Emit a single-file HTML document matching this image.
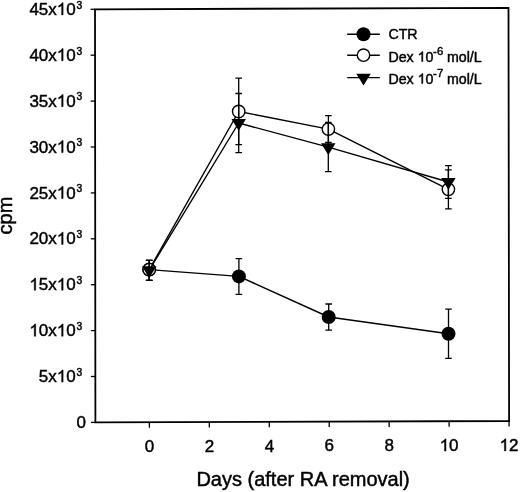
<!DOCTYPE html>
<html><head><meta charset="utf-8"><style>
html,body{margin:0;padding:0;background:#fff;}
body{width:520px;height:492px;overflow:hidden;}
svg{display:block;}
.g{fill:#000;stroke:#000;stroke-width:0.45px;vector-effect:non-scaling-stroke;}
text{font-family:"Liberation Sans",sans-serif;fill:#000;stroke:#000;stroke-width:0.45px;}
svg{filter:grayscale(1);}
</style></head><body>
<svg width="520" height="492" viewBox="0 0 520 492">
<rect width="520" height="492" fill="#fff"/>
<path d="M95.0,9.3L508.5,7.9L509.1,421.0L95.4,422.4Z" fill="none" stroke="#000" stroke-width="1.8" stroke-linejoin="miter"/>
<line x1="91.00" y1="422.40" x2="95.40" y2="422.40" stroke="#000" stroke-width="1.3"/>
<line x1="90.96" y1="376.50" x2="95.36" y2="376.50" stroke="#000" stroke-width="1.3"/>
<line x1="90.91" y1="330.60" x2="95.31" y2="330.60" stroke="#000" stroke-width="1.3"/>
<line x1="90.87" y1="284.70" x2="95.27" y2="284.70" stroke="#000" stroke-width="1.3"/>
<line x1="90.82" y1="238.80" x2="95.22" y2="238.80" stroke="#000" stroke-width="1.3"/>
<line x1="90.78" y1="192.90" x2="95.18" y2="192.90" stroke="#000" stroke-width="1.3"/>
<line x1="90.73" y1="147.00" x2="95.13" y2="147.00" stroke="#000" stroke-width="1.3"/>
<line x1="90.69" y1="101.10" x2="95.09" y2="101.10" stroke="#000" stroke-width="1.3"/>
<line x1="90.64" y1="55.20" x2="95.04" y2="55.20" stroke="#000" stroke-width="1.3"/>
<line x1="90.60" y1="9.30" x2="95.00" y2="9.30" stroke="#000" stroke-width="1.3"/>
<line x1="149.40" y1="422.22" x2="149.40" y2="427.72" stroke="#000" stroke-width="1.3"/>
<line x1="209.34" y1="422.01" x2="209.34" y2="427.51" stroke="#000" stroke-width="1.3"/>
<line x1="269.28" y1="421.81" x2="269.28" y2="427.31" stroke="#000" stroke-width="1.3"/>
<line x1="329.22" y1="421.61" x2="329.22" y2="427.11" stroke="#000" stroke-width="1.3"/>
<line x1="389.16" y1="421.41" x2="389.16" y2="426.91" stroke="#000" stroke-width="1.3"/>
<line x1="449.10" y1="421.20" x2="449.10" y2="426.70" stroke="#000" stroke-width="1.3"/>
<line x1="509.04" y1="421.00" x2="509.04" y2="426.50" stroke="#000" stroke-width="1.3"/>
<polyline points="149.20,269.60 238.90,276.40 328.70,317.00 448.50,333.70" fill="none" stroke="#000" stroke-width="1.4" stroke-linejoin="round"/>
<circle cx="149.20" cy="269.60" r="7.0" fill="#000"/>
<circle cx="238.90" cy="276.40" r="7.0" fill="#000"/>
<circle cx="328.70" cy="317.00" r="7.0" fill="#000"/>
<circle cx="448.50" cy="333.70" r="7.0" fill="#000"/>
<path d="M149.20,260.30V280.40M145.90,260.30H152.50M145.90,280.40H152.50" fill="none" stroke="#000" stroke-width="1.3"/>
<path d="M238.90,258.60V294.40M235.60,258.60H242.20M235.60,294.40H242.20" fill="none" stroke="#000" stroke-width="1.3"/>
<path d="M328.70,304.00V330.10M325.40,304.00H332.00M325.40,330.10H332.00" fill="none" stroke="#000" stroke-width="1.3"/>
<path d="M448.50,309.20V358.30M445.20,309.20H451.80M445.20,358.30H451.80" fill="none" stroke="#000" stroke-width="1.3"/>
<polyline points="149.20,269.60 238.70,111.50 328.40,129.10 448.40,189.30" fill="none" stroke="#000" stroke-width="1.4" stroke-linejoin="round"/>
<circle cx="149.20" cy="269.60" r="6.2" fill="#fff" stroke="#000" stroke-width="1.4"/>
<circle cx="238.70" cy="111.50" r="6.2" fill="#fff" stroke="#000" stroke-width="1.4"/>
<circle cx="328.40" cy="129.10" r="6.2" fill="#fff" stroke="#000" stroke-width="1.4"/>
<circle cx="448.40" cy="189.30" r="6.2" fill="#fff" stroke="#000" stroke-width="1.4"/>
<path d="M149.20,260.30V280.40M145.90,260.30H152.50M145.90,280.40H152.50" fill="none" stroke="#000" stroke-width="1.3"/>
<path d="M238.70,78.10V144.70M235.40,78.10H242.00M235.40,144.70H242.00" fill="none" stroke="#000" stroke-width="1.3"/>
<path d="M328.40,115.70V142.50M325.10,115.70H331.70M325.10,142.50H331.70" fill="none" stroke="#000" stroke-width="1.3"/>
<path d="M448.40,169.80V208.80M445.10,169.80H451.70M445.10,208.80H451.70" fill="none" stroke="#000" stroke-width="1.3"/>
<polyline points="149.20,270.20 238.70,123.00 328.30,147.10 448.40,182.00" fill="none" stroke="#000" stroke-width="1.4" stroke-linejoin="round"/>
<path d="M141.95,266.30 L156.45,266.30 L149.20,278.00 Z" fill="#000"/>
<path d="M231.45,119.10 L245.95,119.10 L238.70,130.80 Z" fill="#000"/>
<path d="M321.05,143.20 L335.55,143.20 L328.30,154.90 Z" fill="#000"/>
<path d="M441.15,178.10 L455.65,178.10 L448.40,189.80 Z" fill="#000"/>
<path d="M149.20,260.30V280.40M145.90,260.30H152.50M145.90,280.40H152.50" fill="none" stroke="#000" stroke-width="1.3"/>
<path d="M238.70,93.50V152.60M235.40,93.50H242.00M235.40,152.60H242.00" fill="none" stroke="#000" stroke-width="1.3"/>
<path d="M328.30,122.50V171.60M325.00,122.50H331.60M325.00,171.60H331.60" fill="none" stroke="#000" stroke-width="1.3"/>
<path d="M448.40,165.60V198.40M445.10,165.60H451.70M445.10,198.40H451.70" fill="none" stroke="#000" stroke-width="1.3"/>
<line x1="347.2" y1="34.3" x2="379.8" y2="34.3" stroke="#000" stroke-width="1.4"/>
<circle cx="363.50" cy="34.30" r="7.0" fill="#000"/>
<line x1="347.2" y1="55.2" x2="379.8" y2="55.2" stroke="#000" stroke-width="1.4"/>
<circle cx="363.50" cy="55.20" r="6.2" fill="#fff" stroke="#000" stroke-width="1.4"/>
<line x1="347.2" y1="77.6" x2="379.8" y2="77.6" stroke="#000" stroke-width="1.4"/>
<path d="M356.25,73.70 L370.75,73.70 L363.50,85.40 Z" fill="#000"/>
<text x="38.84" y="382.10" font-size="17.0">5x</text>
<path transform="translate(56.79,382.10) scale(0.008301,-0.008301)" d="M763,0L583,0L583,1147Q518,1085 412,1023Q307,961 222,930L222,1104Q373,1175 486,1276Q599,1377 646,1472L763,1472Z" class="g"/>
<text x="66.25" y="382.10" font-size="17.0">0</text>
<text x="82.3" y="375.80" text-anchor="end" font-size="10.3">3</text>
<path transform="translate(29.38,336.20) scale(0.008301,-0.008301)" d="M763,0L583,0L583,1147Q518,1085 412,1023Q307,961 222,930L222,1104Q373,1175 486,1276Q599,1377 646,1472L763,1472Z" class="g"/>
<text x="38.84" y="336.20" font-size="17.0">0x</text>
<path transform="translate(56.79,336.20) scale(0.008301,-0.008301)" d="M763,0L583,0L583,1147Q518,1085 412,1023Q307,961 222,930L222,1104Q373,1175 486,1276Q599,1377 646,1472L763,1472Z" class="g"/>
<text x="66.25" y="336.20" font-size="17.0">0</text>
<text x="82.3" y="329.90" text-anchor="end" font-size="10.3">3</text>
<path transform="translate(29.38,290.30) scale(0.008301,-0.008301)" d="M763,0L583,0L583,1147Q518,1085 412,1023Q307,961 222,930L222,1104Q373,1175 486,1276Q599,1377 646,1472L763,1472Z" class="g"/>
<text x="38.84" y="290.30" font-size="17.0">5x</text>
<path transform="translate(56.79,290.30) scale(0.008301,-0.008301)" d="M763,0L583,0L583,1147Q518,1085 412,1023Q307,961 222,930L222,1104Q373,1175 486,1276Q599,1377 646,1472L763,1472Z" class="g"/>
<text x="66.25" y="290.30" font-size="17.0">0</text>
<text x="82.3" y="284.00" text-anchor="end" font-size="10.3">3</text>
<text x="29.38" y="244.40" font-size="17.0">20x</text>
<path transform="translate(56.79,244.40) scale(0.008301,-0.008301)" d="M763,0L583,0L583,1147Q518,1085 412,1023Q307,961 222,930L222,1104Q373,1175 486,1276Q599,1377 646,1472L763,1472Z" class="g"/>
<text x="66.25" y="244.40" font-size="17.0">0</text>
<text x="82.3" y="238.10" text-anchor="end" font-size="10.3">3</text>
<text x="29.38" y="198.50" font-size="17.0">25x</text>
<path transform="translate(56.79,198.50) scale(0.008301,-0.008301)" d="M763,0L583,0L583,1147Q518,1085 412,1023Q307,961 222,930L222,1104Q373,1175 486,1276Q599,1377 646,1472L763,1472Z" class="g"/>
<text x="66.25" y="198.50" font-size="17.0">0</text>
<text x="82.3" y="192.20" text-anchor="end" font-size="10.3">3</text>
<text x="29.38" y="152.60" font-size="17.0">30x</text>
<path transform="translate(56.79,152.60) scale(0.008301,-0.008301)" d="M763,0L583,0L583,1147Q518,1085 412,1023Q307,961 222,930L222,1104Q373,1175 486,1276Q599,1377 646,1472L763,1472Z" class="g"/>
<text x="66.25" y="152.60" font-size="17.0">0</text>
<text x="82.3" y="146.30" text-anchor="end" font-size="10.3">3</text>
<text x="29.38" y="106.70" font-size="17.0">35x</text>
<path transform="translate(56.79,106.70) scale(0.008301,-0.008301)" d="M763,0L583,0L583,1147Q518,1085 412,1023Q307,961 222,930L222,1104Q373,1175 486,1276Q599,1377 646,1472L763,1472Z" class="g"/>
<text x="66.25" y="106.70" font-size="17.0">0</text>
<text x="82.3" y="100.40" text-anchor="end" font-size="10.3">3</text>
<text x="29.38" y="60.80" font-size="17.0">40x</text>
<path transform="translate(56.79,60.80) scale(0.008301,-0.008301)" d="M763,0L583,0L583,1147Q518,1085 412,1023Q307,961 222,930L222,1104Q373,1175 486,1276Q599,1377 646,1472L763,1472Z" class="g"/>
<text x="66.25" y="60.80" font-size="17.0">0</text>
<text x="82.3" y="54.50" text-anchor="end" font-size="10.3">3</text>
<text x="29.38" y="14.90" font-size="17.0">45x</text>
<path transform="translate(56.79,14.90) scale(0.008301,-0.008301)" d="M763,0L583,0L583,1147Q518,1085 412,1023Q307,961 222,930L222,1104Q373,1175 486,1276Q599,1377 646,1472L763,1472Z" class="g"/>
<text x="66.25" y="14.90" font-size="17.0">0</text>
<text x="82.3" y="8.60" text-anchor="end" font-size="10.3">3</text>
<text x="85.9" y="428.00" text-anchor="end" font-size="17.0">0</text>
<text x="144.87" y="452.00" font-size="17.0">0</text>
<text x="204.77" y="451.82" font-size="17.0">2</text>
<text x="264.67" y="451.64" font-size="17.0">4</text>
<text x="324.57" y="451.46" font-size="17.0">6</text>
<text x="384.47" y="451.28" font-size="17.0">8</text>
<path transform="translate(439.65,451.10) scale(0.008301,-0.008301)" d="M763,0L583,0L583,1147Q518,1085 412,1023Q307,961 222,930L222,1104Q373,1175 486,1276Q599,1377 646,1472L763,1472Z" class="g"/>
<text x="449.10" y="451.10" font-size="17.0">0</text>
<path transform="translate(499.55,450.92) scale(0.008301,-0.008301)" d="M763,0L583,0L583,1147Q518,1085 412,1023Q307,961 222,930L222,1104Q373,1175 486,1276Q599,1377 646,1472L763,1472Z" class="g"/>
<text x="509.00" y="450.92" font-size="17.0">2</text>
<text x="196.4" y="486.4" font-size="20.0">Days (after RA removal)</text>
<text transform="translate(11.9,234.4) rotate(-90)" font-size="20.0">cpm</text>
<text x="388.4" y="39.1" font-size="14.2">CTR</text>
<text x="388.40" y="61.60" font-size="14.2">Dex </text>
<path transform="translate(417.60,61.60) scale(0.006934,-0.006934)" d="M763,0L583,0L583,1147Q518,1085 412,1023Q307,961 222,930L222,1104Q373,1175 486,1276Q599,1377 646,1472L763,1472Z" class="g"/>
<text x="425.49" y="61.60" font-size="14.2">0</text>
<text x="433.0" y="55.1" font-size="11.3">-<tspan dx="0.3">6</tspan></text>
<text x="447.0" y="61.6" font-size="14.2">mol/L</text>
<text x="388.40" y="83.60" font-size="14.2">Dex </text>
<path transform="translate(417.60,83.60) scale(0.006934,-0.006934)" d="M763,0L583,0L583,1147Q518,1085 412,1023Q307,961 222,930L222,1104Q373,1175 486,1276Q599,1377 646,1472L763,1472Z" class="g"/>
<text x="425.49" y="83.60" font-size="14.2">0</text>
<text x="433.0" y="77.1" font-size="11.3">-<tspan dx="0.3">7</tspan></text>
<text x="447.0" y="83.6" font-size="14.2">mol/L</text>
</svg>
</body></html>
